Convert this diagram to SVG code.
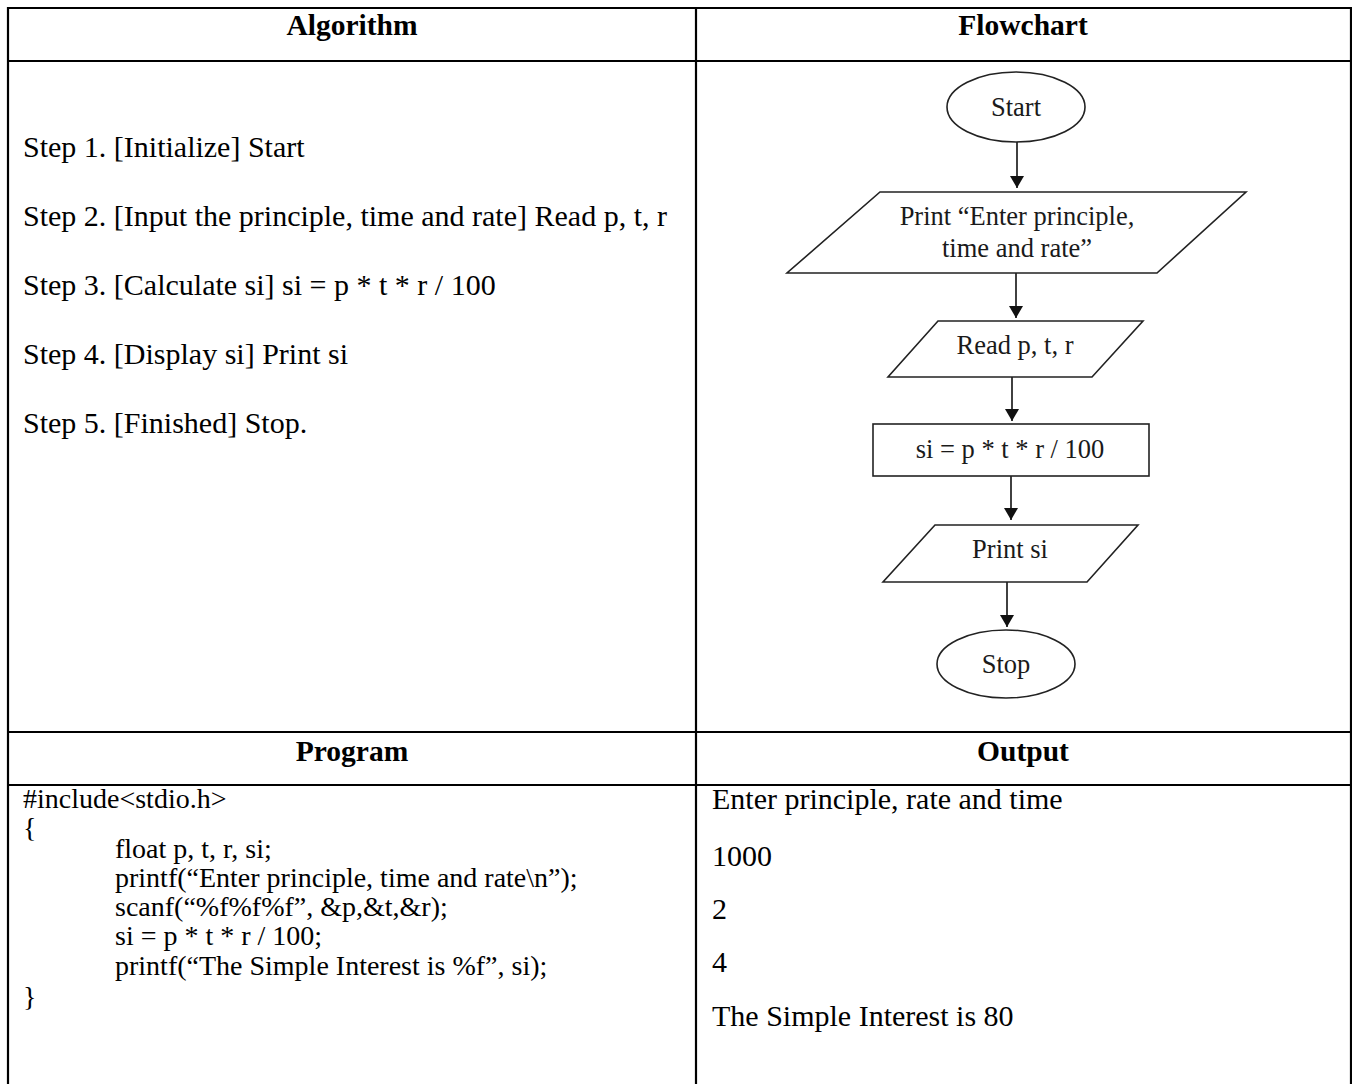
<svg xmlns="http://www.w3.org/2000/svg" width="1352" height="1084" viewBox="0 0 1352 1084">
  <style>
    .grid { stroke: #000; stroke-width: 2.2; fill: none; }
    .head { font-family: "Liberation Serif", "Times New Roman", serif; font-weight: bold; font-size: 29.5px; fill: #000; text-anchor: middle; }
    .body { font-family: "Liberation Serif", "Times New Roman", serif; font-size: 30px; fill: #000; }
    .code { font-family: "Liberation Serif", "Times New Roman", serif; font-size: 28px; fill: #000; }
    .shape { fill: #fff; stroke: #222; stroke-width: 1.6; }
    .label { font-family: "Liberation Serif", "Times New Roman", serif; font-size: 26.5px; fill: #1a1a1a; text-anchor: middle; }
    .edge { stroke: #111; stroke-width: 1.6; fill: none; marker-end: url(#arrow); }
  </style>
  <defs>
    <marker id="arrow" viewBox="0 0 12 14" refX="12" refY="7" markerWidth="12" markerHeight="14" markerUnits="userSpaceOnUse" orient="auto">
      <path d="M0,0 L12,7 L0,14 Z" fill="#111"/>
    </marker>
  </defs>

  <rect width="1352" height="1084" fill="#fff"/>

  <!-- table grid -->
  <g id="table">
    <line class="grid" x1="7" y1="8" x2="1352" y2="8"/>
    <line class="grid" x1="8" y1="7" x2="8" y2="1084"/>
    <line class="grid" x1="1351" y1="7" x2="1351" y2="1084"/>
    <line class="grid" x1="696" y1="8" x2="696" y2="1084"/>
    <line class="grid" x1="8" y1="61" x2="1351" y2="61"/>
    <line class="grid" x1="8" y1="732" x2="1351" y2="732"/>
    <line class="grid" x1="8" y1="785" x2="1351" y2="785"/>
  </g>

  <!-- column headings -->
  <g id="headings">
    <text class="head" x="352" y="35">Algorithm</text>
    <text class="head" x="1023" y="35">Flowchart</text>
    <text class="head" x="352" y="761">Program</text>
    <text class="head" x="1023" y="761">Output</text>
  </g>

  <!-- algorithm steps -->
  <g id="algorithm">
    <text class="body" x="23" y="157">Step 1. [Initialize] Start</text>
    <text class="body" x="23" y="226">Step 2. [Input the principle, time and rate] Read p, t, r</text>
    <text class="body" x="23" y="295">Step 3. [Calculate si] si = p * t * r / 100</text>
    <text class="body" x="23" y="364">Step 4. [Display si] Print si</text>
    <text class="body" x="23" y="433">Step 5. [Finished] Stop.</text>
  </g>

  <!-- flowchart connectors -->
  <g id="connectors">
    <line class="edge" x1="1017" y1="142" x2="1017" y2="188"/>
    <line class="edge" x1="1016" y1="273" x2="1016" y2="318"/>
    <line class="edge" x1="1012" y1="377" x2="1012" y2="421"/>
    <line class="edge" x1="1011" y1="476" x2="1011" y2="520"/>
    <line class="edge" x1="1007" y1="582" x2="1007" y2="627"/>
  </g>

  <!-- flowchart nodes -->
  <g id="start">
    <ellipse class="shape" cx="1016" cy="107" rx="69" ry="35"/>
    <text class="label" x="1016" y="116">Start</text>
  </g>
  <g id="prompt">
    <polygon class="shape" points="880,192 1246,192 1157,273 787,273"/>
    <text class="label" x="1017" y="225">Print “Enter principle,</text>
    <text class="label" x="1017" y="257">time and rate”</text>
  </g>
  <g id="read">
    <polygon class="shape" points="938,321 1143,321 1092,377 888,377"/>
    <text class="label" x="1015" y="354">Read p, t, r</text>
  </g>
  <g id="calc">
    <rect class="shape" x="873" y="424" width="276" height="52"/>
    <text class="label" x="1010" y="458">si = p * t * r / 100</text>
  </g>
  <g id="print">
    <polygon class="shape" points="935,525 1138,525 1087,582 883,582"/>
    <text class="label" x="1010" y="558">Print si</text>
  </g>
  <g id="stop">
    <ellipse class="shape" cx="1006" cy="664" rx="69" ry="34"/>
    <text class="label" x="1006" y="673">Stop</text>
  </g>

  <!-- program listing -->
  <g id="program">
    <text class="code" x="23" y="808">#include&lt;stdio.h&gt;</text>
    <text class="code" x="23" y="837">{</text>
    <text class="code" x="115" y="858">float p, t, r, si;</text>
    <text class="code" x="115" y="887">printf(“Enter principle, time and rate\n”);</text>
    <text class="code" x="115" y="916">scanf(“%f%f%f”, &amp;p,&amp;t,&amp;r);</text>
    <text class="code" x="115" y="945">si = p * t * r / 100;</text>
    <text class="code" x="115" y="975">printf(“The Simple Interest is %f”, si);</text>
    <text class="code" x="23" y="1006">}</text>
  </g>

  <!-- program output -->
  <g id="output">
    <text class="body" x="712" y="809">Enter principle, rate and time</text>
    <text class="body" x="712" y="866">1000</text>
    <text class="body" x="712" y="919">2</text>
    <text class="body" x="712" y="972">4</text>
    <text class="body" x="712" y="1026">The Simple Interest is 80</text>
  </g>
</svg>
